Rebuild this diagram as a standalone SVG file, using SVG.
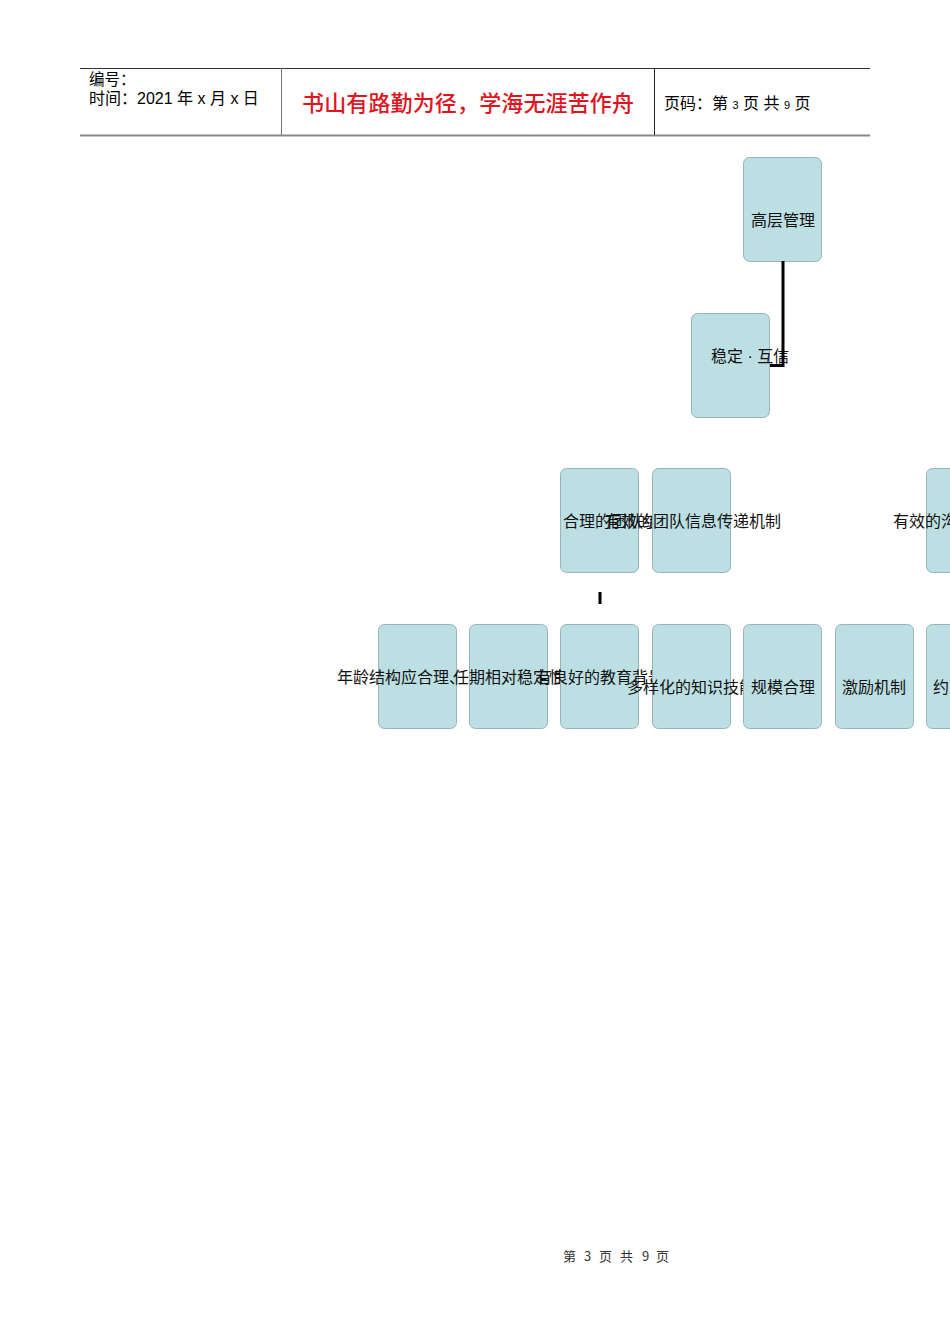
<svg xmlns="http://www.w3.org/2000/svg" width="950" height="1344" viewBox="0 0 950 1344">
<style>
.t{font-family:"Liberation Sans","Noto Sans CJK SC",sans-serif;fill:#000}
.n rect{fill:#BBDFE3;stroke:#98B4B8;stroke-width:1}
.n text{font-family:"Liberation Sans","Noto Sans CJK SC",sans-serif;font-size:16px;fill:#111}
.c{stroke:#000;stroke-width:3;fill:none}
.f{font-family:"Noto Sans CJK SC",sans-serif;font-size:13px;fill:#333}
</style>
<rect width="950" height="1344" fill="#fff"/>
<g id="header">
<line x1="80" y1="68.5" x2="870" y2="68.5" stroke="#333" stroke-width="1"/>
<line x1="80" y1="135.5" x2="870" y2="135.5" stroke="#888" stroke-width="2"/>
<line x1="281.5" y1="68" x2="281.5" y2="135" stroke="#777" stroke-width="1"/>
<line x1="654.5" y1="68" x2="654.5" y2="135" stroke="#222" stroke-width="1"/>
<text class="t" x="89" y="85" font-size="15.5">编号：</text>
<text class="t" x="89" y="104" font-size="16">时间：2021 年 x 月 x 日</text>
<text x="302" y="111" font-size="22" font-weight="500" fill="#E0141E" font-family="Noto Sans CJK SC,sans-serif" textLength="332">书山有路勤为径，学海无涯苦作舟</text>
<text class="t" x="664" y="109" font-size="16">页码：第 <tspan font-size="11">3</tspan> 页  共 <tspan font-size="11">9</tspan> 页</text>
</g>
<g id="n1" class="n"><rect x="743.5" y="157.5" width="78" height="104" rx="6"/><text x="783" y="226" text-anchor="middle">高层管理</text></g>
<g id="n2" class="n"><rect x="691.5" y="313.5" width="78" height="104" rx="6"/><text x="711" y="362">稳定 · 互信</text></g>
<g id="n3" class="n"><rect x="560.5" y="468.5" width="78" height="104" rx="6"/><text x="563" y="527">合理的团队结构</text></g>
<g id="n4" class="n"><rect x="652.5" y="468.5" width="78" height="104" rx="6"/><text x="605" y="527">有效的团队信息传递机制</text></g>
<g id="n5" class="n"><rect x="926.5" y="468.5" width="78" height="104" rx="6"/><text x="893" y="527">有效的沟通渠道</text></g>
<g id="n6" class="n"><rect x="378.5" y="624.5" width="78" height="104" rx="6"/><text x="337" y="683">年龄结构应合理、</text></g>
<g id="n7" class="n"><rect x="469.5" y="624.5" width="78" height="104" rx="6"/><text x="453" y="683">任期相对稳定性</text></g>
<g id="n8" class="n"><rect x="560.5" y="624.5" width="78" height="104" rx="6"/><text x="536" y="683">有良好的教育背景</text></g>
<g id="n9" class="n"><rect x="652.5" y="624.5" width="78" height="104" rx="6"/><text x="627" y="693">多样化的知识技能</text></g>
<g id="n10" class="n"><rect x="743.5" y="624.5" width="78" height="104" rx="6"/><text x="783" y="693" text-anchor="middle">规模合理</text></g>
<g id="n11" class="n"><rect x="835.5" y="624.5" width="78" height="104" rx="6"/><text x="874" y="693" text-anchor="middle">激励机制</text></g>
<g id="n12" class="n"><rect x="926.5" y="624.5" width="78" height="104" rx="6"/><text x="933" y="693">约束机制</text></g>
<g id="connectors">
<polyline class="c" points="783,261 783,365.5 770,365.5"/>
<line class="c" x1="600" y1="592" x2="600" y2="604"/>
</g>
<text class="f" y="1261"><tspan x="563">第</tspan><tspan x="584">3</tspan><tspan x="599">页</tspan><tspan x="620">共</tspan><tspan x="642">9</tspan><tspan x="656">页</tspan></text>
</svg>
